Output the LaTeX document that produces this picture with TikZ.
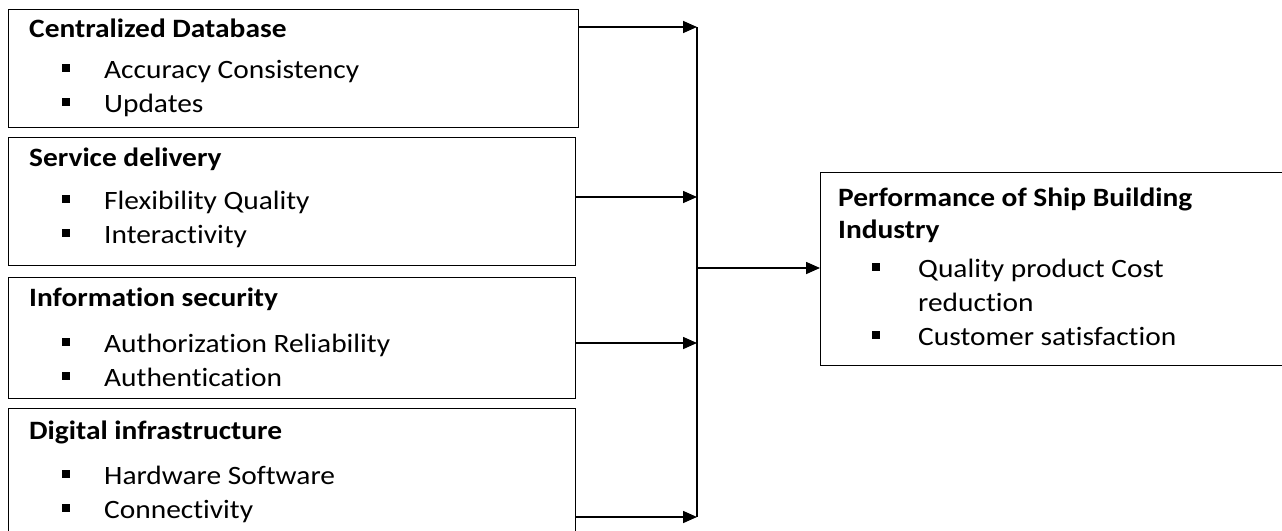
\documentclass[tikz,border=0pt]{standalone}
\usepackage{fontspec}
\setmainfont{Carlito}[Ligatures=NoCommon, FakeStretch=1.11]
\usetikzlibrary{arrows.meta,positioning}

% bullet item inside a box
\newcommand{\itm}[1]{\hspace*{33pt}\rule[7pt]{8pt}{8pt}\hspace{34pt}#1}
\newcommand{\pitm}[1]{\hspace*{34pt}\rule[7pt]{8pt}{8pt}\hspace{38pt}#1}

\begin{document}
\begin{tikzpicture}[
  x=1pt, y=-1pt,
  every node/.style={font=\fontsize{26.5}{34}\selectfont},
  box/.style={draw, line width=1.3pt, anchor=north west, inner sep=0pt},
  txt/.style={anchor=north west, align=left, inner sep=0pt},
  arrow/.style={-{Triangle[length=14pt, width=12pt]}, line width=1.6pt},
  bar/.style={line width=1.3pt}
]
  \useasboundingbox (0,0) rectangle (1282,530);

  % factor boxes
  \node[box, minimum width=570pt, minimum height=118pt] (cdb) at (8,9) {};
  \node[box, minimum width=567pt, minimum height=128pt] (sdl) at (8,137) {};
  \node[box, minimum width=567pt, minimum height=121pt] (isc) at (8,277) {};
  \node[box, minimum width=567pt, minimum height=130pt] (dif) at (8,408) {};
  \node[box, minimum width=470pt, minimum height=193pt] (perf) at (820,172) {};

  \node[txt] (cdbt) at (29,19) {\textbf{Centralized Database}\\[7pt] \itm{Accuracy Consistency}\\ \itm{Updates}};
  \node[txt] (sdlt) at (29,148) {\textbf{Service delivery}\\[9pt] \itm{Flexibility Quality}\\ \itm{Interactivity}};
  \node[txt] (isct) at (29,288) {\textbf{Information security}\\[12pt] \itm{Authorization Reliability}\\ \itm{Authentication}};
  \node[txt] (dift) at (29,421) {\textbf{Digital infrastructure}\\[11pt] \itm{Hardware Software}\\ \itm{Connectivity}};
  \node[txt] (perft) at (838,188) {\textbf{Performance of Ship Building}\\[-2pt] \textbf{Industry}\\[5pt]
    \pitm{Quality product Cost}\\ \hspace*{80pt}reduction\\ \pitm{Customer satisfaction}};

  % collector line
  \coordinate (c1) at (697,27);
  \coordinate (c2) at (697,197);
  \coordinate (cm) at (697,268);
  \coordinate (c3) at (697,343);
  \coordinate (c4) at (697,517);
  \draw[bar] (c1) -- (c4);

  \draw[arrow] (cdb.east |- c1) -- (c1);
  \draw[arrow] (sdl.east |- c2) -- (c2);
  \draw[arrow] (isc.east |- c3) -- (c3);
  \draw[arrow] (dif.east |- c4) -- (c4);
  \draw[arrow] (cm) -- (perf.west |- cm);
\end{tikzpicture}
\end{document}
